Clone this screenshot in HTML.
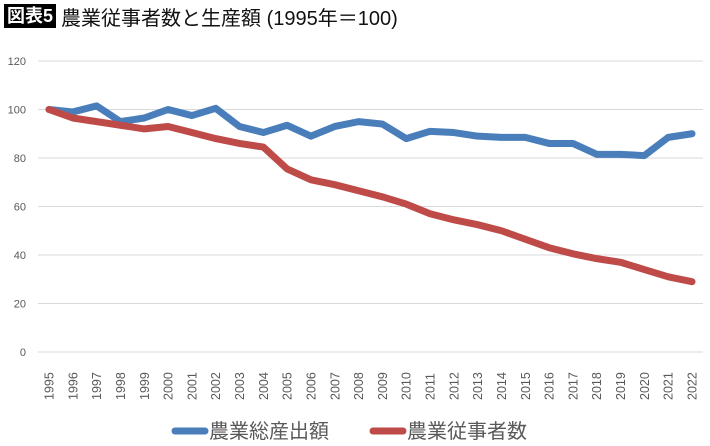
<!DOCTYPE html>
<html><head><meta charset="utf-8"><style>
body{margin:0;width:710px;height:446px;background:#fff;overflow:hidden;font-family:"Liberation Sans","Noto Sans CJK JP",sans-serif}
#t{position:absolute;left:4px;top:4px;height:24px;display:flex;align-items:center}
#tag{background:#000;color:#fff;font-weight:bold;font-size:18px;padding:1px 3px;line-height:22px}
#tt{font-size:20px;margin-left:5px;color:#111}
</style></head><body>
<div id="t"><span id="tag">図表5</span><span id="tt">農業従事者数と生産額 (1995年＝100)</span></div>
<svg id="c" width="710" height="446" style="position:absolute;left:0;top:0"></svg>
<script>
const years=[1995,1996,1997,1998,1999,2000,2001,2002,2003,2004,2005,2006,2007,2008,2009,2010,2011,2012,2013,2014,2015,2016,2017,2018,2019,2020,2021,2022];
const output=[100,99,101.5,95,96.5,100,97.5,100.5,93,90.5,93.5,89,93,95,94,88,91,90.5,89,88.5,88.5,86,86,81.5,81.5,81,88.5,90];
const workers=[100,96.5,95,93.5,92,93,90.5,88,86,84.5,75.5,71,69,66.5,64,61,57,54.5,52.5,50,46.5,43,40.5,38.5,37,34,31,29];
const yTicks=[0,20,40,60,80,100,120];
const seriesNames=["農業総産出額","農業従事者数"];
const svg=document.getElementById('c');const NS='http://www.w3.org/2000/svg';
const x=i=>49+i*(643/27), y=v=>352-v*(291/120);
function mk(t,a){const e=document.createElementNS(NS,t);for(const k in a)e.setAttribute(k,a[k]);svg.appendChild(e);return e;}
yTicks.forEach(v=>{
 const g=mk('line',{x1:38,x2:703,y1:y(v),y2:y(v),stroke:'#d9d9d9','stroke-width':1});
 
 
 const t=mk('text',{x:26,y:y(v)+4,'text-anchor':'end','font-size':11,fill:'#595959'});t.textContent=v;
 
 
});
years.forEach((yr,i)=>{
 const t=mk('text',{transform:`translate(${x(i)+4.5},${400}) rotate(-90)`,'font-size':12.5,fill:'#595959'});t.textContent=yr;
 
 
});
function line(d,c,n){const p=mk('polyline',{points:d.map((v,i)=>x(i)+','+y(v)).join(' '),fill:'none',stroke:c,'stroke-width':7,'stroke-linejoin':'round','stroke-linecap':'round'});
 
 }
line(output,'#4a7ebb','output-line');
line(workers,'#be4b48','workers-line');
[[175,'#4a7ebb',0],[373,'#be4b48',1]].forEach(([lx,c,k])=>{
 const l=mk('line',{x1:lx,x2:lx+30,y1:431,y2:431,stroke:c,'stroke-width':7,'stroke-linecap':'round'});
 
 
 const t=mk('text',{x:lx+34,y:438,'font-size':20,fill:'#595959'});t.textContent=seriesNames[k];
 
 
});
</script>
</body></html>
